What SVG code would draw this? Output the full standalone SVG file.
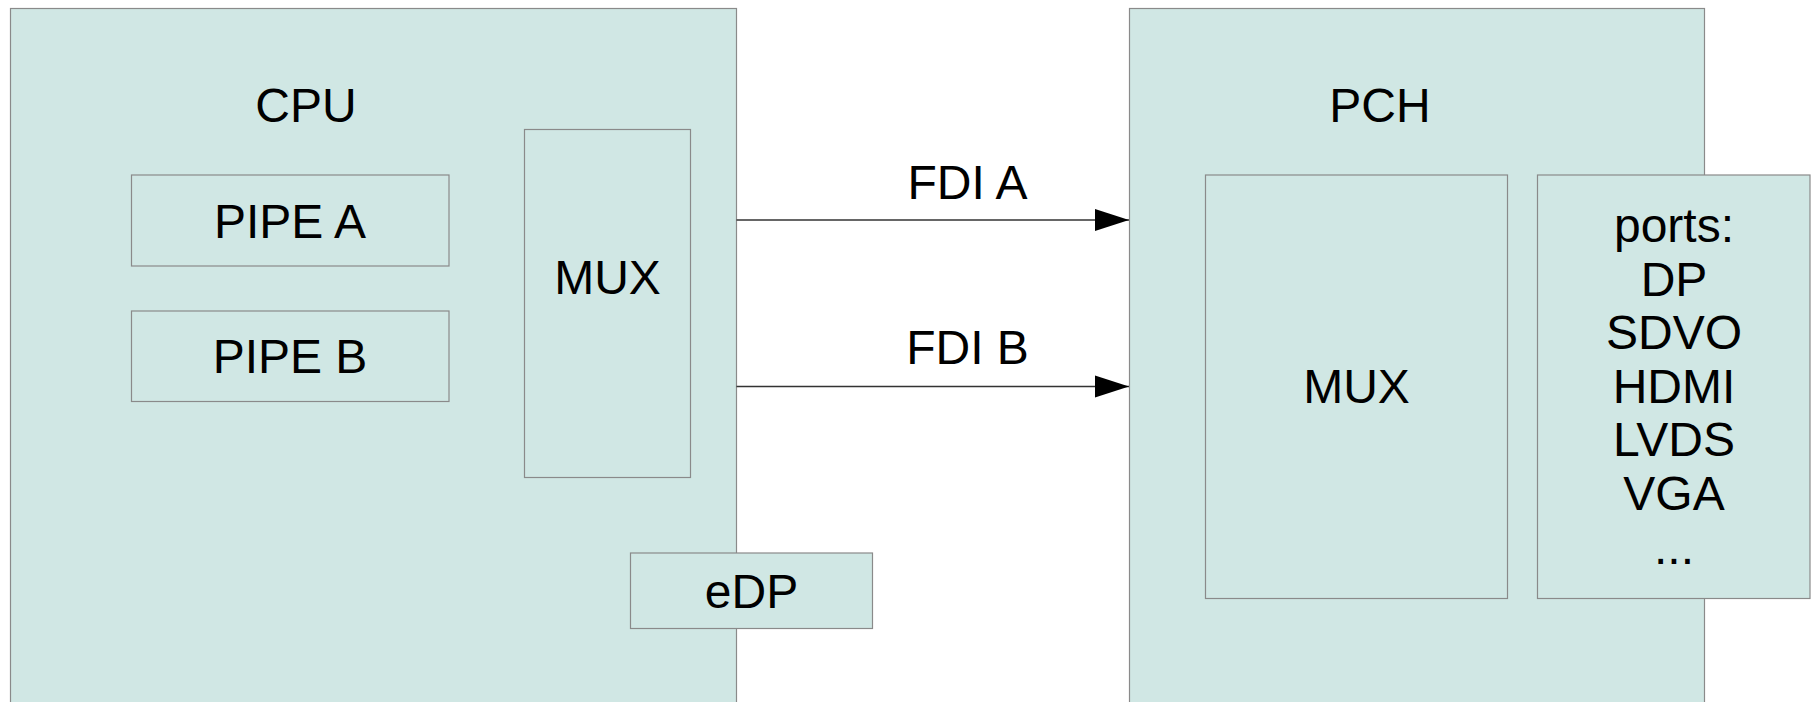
<svg xmlns="http://www.w3.org/2000/svg" width="1818" height="702" viewBox="0 0 1818 702">
<style>
.box{fill:#d0e7e4;stroke:#8a8a8a;stroke-width:1.2}
.t{font-family:"Liberation Sans",Arial,sans-serif;font-size:48px;fill:#000;text-anchor:middle}
.conn{stroke:#333;stroke-width:1.5;fill:none}
</style>
<defs>
<marker id="arr" markerUnits="userSpaceOnUse" markerWidth="34" markerHeight="24" refX="34" refY="12" orient="auto">
<path d="M0,1 L34,12 L0,23 Z" fill="#000"/>
</marker>
</defs>
<rect width="1818" height="702" fill="#fff"/>
<g id="cpu">
<rect class="box" x="10.5" y="8.5" width="726" height="720"/>
<text class="t" x="306" y="122">CPU</text>
</g>
<g id="pipe-a">
<rect class="box" x="131.5" y="175" width="317.5" height="91"/>
<text class="t" x="290" y="237.5">PIPE A</text>
</g>
<g id="pipe-b">
<rect class="box" x="131.5" y="311" width="317.5" height="90.5"/>
<text class="t" x="290" y="372.5">PIPE B</text>
</g>
<g id="cpu-mux">
<rect class="box" x="524.5" y="129.5" width="166" height="348"/>
<text class="t" x="607.5" y="293.5">MUX</text>
</g>
<g id="edp">
<rect class="box" x="630.5" y="553" width="242" height="75.5"/>
<text class="t" x="751.5" y="607.5">eDP</text>
</g>
<g id="pch">
<rect class="box" x="1129.5" y="8.5" width="575" height="720"/>
<text class="t" x="1380" y="122">PCH</text>
</g>
<g id="pch-mux">
<rect class="box" x="1205.5" y="175" width="302" height="423.5"/>
<text class="t" x="1356.5" y="403">MUX</text>
</g>
<g id="ports">
<rect class="box" x="1537.5" y="175" width="272.5" height="423.5"/>
<text class="t" x="1674" y="242">ports:<tspan x="1674" dy="53.6">DP</tspan><tspan x="1674" dy="53.6">SDVO</tspan><tspan x="1674" dy="53.6">HDMI</tspan><tspan x="1674" dy="53.6">LVDS</tspan><tspan x="1674" dy="53.6">VGA</tspan><tspan x="1674" dy="53.6">...</tspan></text>
</g>
<g id="connectors">
<line class="conn" x1="736.5" y1="220" x2="1129" y2="220" marker-end="url(#arr)"/>
<text class="t" x="967.5" y="198.5">FDI A</text>
<line class="conn" x1="736.5" y1="386.5" x2="1129" y2="386.5" marker-end="url(#arr)"/>
<text class="t" x="967.5" y="363.5">FDI B</text>
</g>
</svg>
